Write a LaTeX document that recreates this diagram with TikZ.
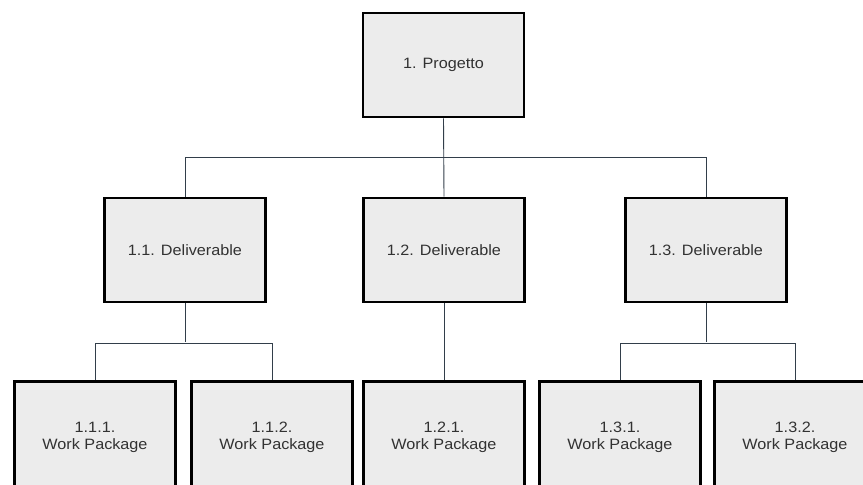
\documentclass[tikz,border=0pt]{standalone}
\usepackage{fontspec}
\setmainfont{Liberation Sans}[FakeStretch=1.08]
\definecolor{boxgray}{RGB}{236,236,236}
\definecolor{linkgray}{RGB}{50,62,74}
\definecolor{textgray}{RGB}{50,50,50}
\tikzset{
  wbsbox/.style={draw=black, line width=2.6pt, fill=boxgray,
    minimum width=161pt, minimum height=104pt, align=center,
    text=textgray, font=\fontsize{15}{17}\selectfont},
  link/.style={draw=linkgray, line width=0.9pt}
}

\begin{document}
\begin{tikzpicture}[x=1pt,y=-1pt]
            \useasboundingbox (0,0) rectangle (863,485);
            \clip (0,0) rectangle (863,485);
            %% project
            \node[wbsbox] (prog) at (443.5,65) {1. Progetto};
            %% deliverables
            \foreach \n/\x in {1/185,2/444,3/706}{
            \node[wbsbox] (del\n) at (\x,250) {1.\n. Deliverable};
            }
            %% work packages (cut off at the bottom)
            \foreach \n/\m/\x in {1/1/95,1/2/272,2/1/444,3/1/620,3/2/795}{
            \node[wbsbox,minimum height=112pt] (wp\n\m) at (\x,437.5) {1.\n.\m.\\Work Package};
            }
            % upper links
            \draw[link] (prog.south) -- (del2.north);
            \draw[link] (del1.north) -- ++(0,-39) -| (del3.north);
            % lower links
            \draw[link] (del1.south) -- ++(0,39);
            \draw[link] (wp11.north) -- ++(0,-37) -| (wp12.north);
            \draw[link] (del2.south) -- (wp21.north);
            \draw[link] (del3.south) -- ++(0,39);
            \draw[link] (wp31.north) -- ++(0,-37) -| (wp32.north);
        \end{tikzpicture}
\end{document}
